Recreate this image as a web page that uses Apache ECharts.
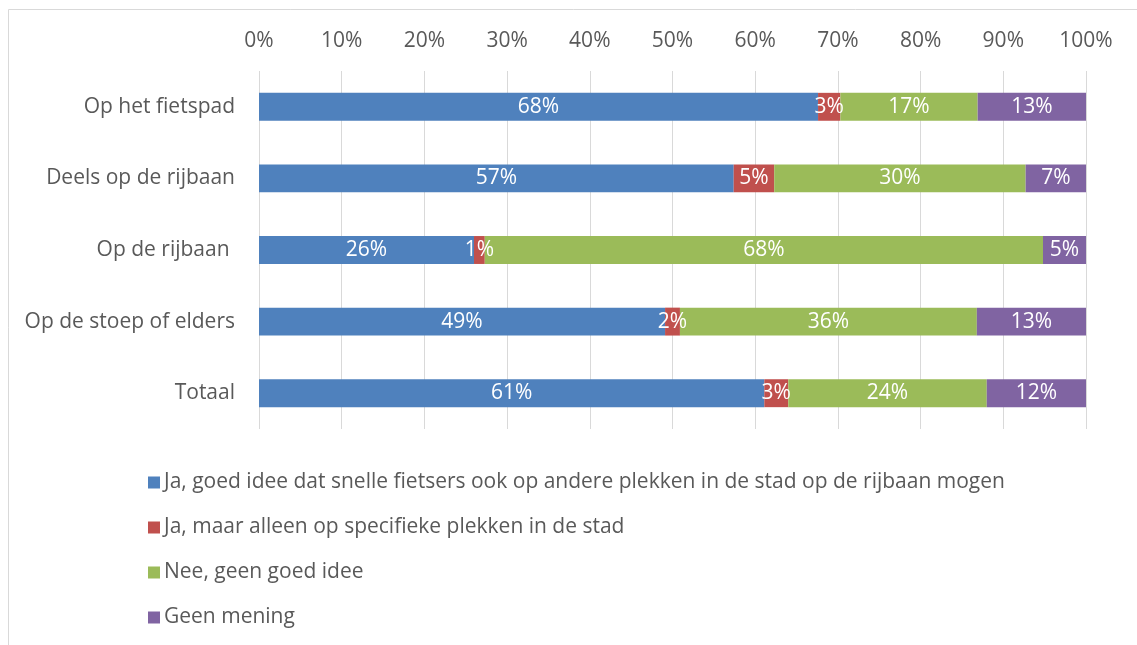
<!DOCTYPE html>
<html>
<head>
<meta charset="utf-8">
<script src="https://cdn.jsdelivr.net/npm/echarts@6/dist/echarts.min.js"></script>
<style>
html,body{margin:0;padding:0;background:#fff;}
#c{width:1137px;height:645px;}
</style>
</head>
<body>
<div id="c"></div>
<script>
var categories = ['Op het fietspad', 'Deels op de rijbaan', 'Op de rijbaan ', 'Op de stoep of elders', 'Totaal'];
var seriesNames = [
  'Ja, goed idee dat snelle fietsers ook op andere plekken in de stad op de rijbaan mogen',
  'Ja, maar alleen op specifieke plekken in de stad',
  'Nee, geen goed idee',
  'Geen mening'
];
var jaGoed = [67.6, 57.4, 26.0, 49.1, 61.1];
var jaSpecifiek = [2.7, 4.9, 1.3, 1.8, 2.9];
var nee = [16.6, 30.4, 67.5, 35.9, 24.0];
var geenMening = [13.1, 7.3, 5.2, 13.2, 12.0];
var xTicks = [0, 10, 20, 30, 40, 50, 60, 70, 80, 90, 100];

var colors = ['#4F81BD', '#C0504D', '#9BBB59', '#8064A2'];
var values = [jaGoed, jaSpecifiek, nee, geenMening];
var font = '"Open Sans", Lato, sans-serif';
var textColor = '#595959';

var chart = echarts.init(document.getElementById('c'));
chart.setOption({
  animation: false,
  graphic: [{
    type: 'rect',
    shape: {x: 8.5, y: 9.5, width: 1200, height: 700},
    style: {fill: 'none', stroke: '#D9D9D9', lineWidth: 1},
    silent: true
  }],
  grid: {left: 259, right: 51, top: 71, height: 358, containLabel: false},
  legend: {
    orient: 'vertical',
    left: 143,
    top: 467,
    itemWidth: 12,
    itemHeight: 12,
    itemGap: 24,
    icon: 'rect',
    textStyle: {fontFamily: font, fontSize: 21, color: textColor, padding: [0, 0, 0, -1]},
    data: seriesNames
  },
  xAxis: {
    type: 'value',
    position: 'top',
    min: 0,
    max: 100,
    interval: 10,
    axisLine: {show: false},
    axisTick: {show: false},
    splitLine: {show: true, lineStyle: {color: '#D9D9D9', width: 1}},
    axisLabel: {
      margin: 19,
      fontFamily: font, fontSize: 21, color: textColor,
      formatter: function (v) { return v + '%'; }
    }
  },
  yAxis: {
    type: 'category',
    inverse: true,
    data: categories,
    axisLine: {show: false},
    axisTick: {show: false},
    axisLabel: {margin: 24, fontFamily: font, fontSize: 21, color: textColor}
  },
  series: values.map(function (vals, i) {
    return {
      name: seriesNames[i],
      type: 'bar',
      stack: 'total',
      barWidth: '39%',
      itemStyle: {color: colors[i]},
      label: {
        show: true,
        position: 'inside',
        color: '#fff',
        fontFamily: font,
        fontSize: 21,
        formatter: function (p) { return Math.round(p.value) + '%'; }
      },
      data: vals
    };
  })
});
</script>
</body>
</html>
